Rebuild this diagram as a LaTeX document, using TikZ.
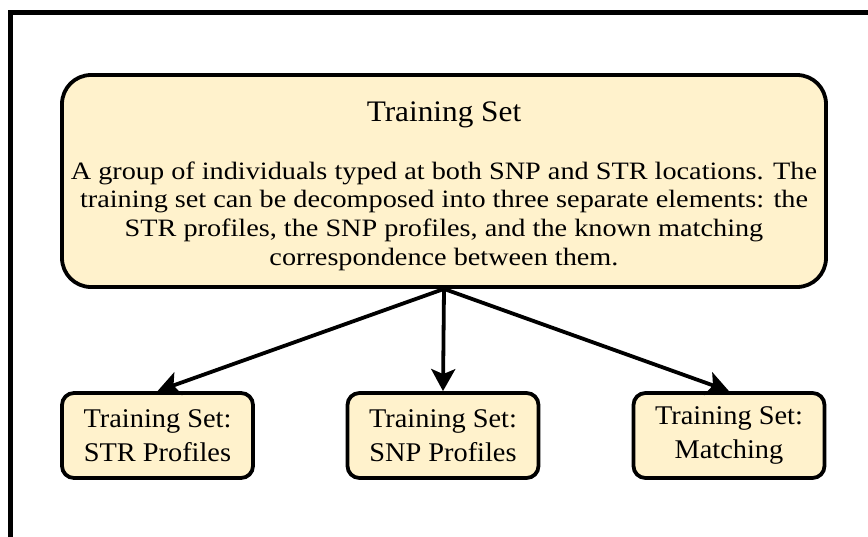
\documentclass[tikz,border=0pt]{standalone}
\usepackage{fontspec}
\setmainfont{Liberation Serif}
\newfontfamily\titlefam{Liberation Serif}[FakeStretch=1.05]
\newfontfamily\bodyfam{Liberation Serif}[FakeStretch=1.13]
\usetikzlibrary{arrows.meta}
\definecolor{boxfill}{HTML}{FFF2CC}
\begin{document}
\begin{tikzpicture}[x=1pt,y=-1pt,
  bigbox/.style={draw=black, line width=3.8pt, fill=boxfill, rounded corners=29pt,
    minimum width=764pt, minimum height=212pt, inner sep=0pt},
  smallbox/.style={draw=black, line width=3.8pt, fill=boxfill, rounded corners=12pt,
    minimum width=191pt, minimum height=85pt, inner sep=0pt, align=center,
    font=\titlefam\fontsize{27}{34}\selectfont},
  titletext/.style={font=\titlefam\fontsize{29.8}{34}\selectfont, anchor=base, inner sep=0pt},
  bodytext/.style={font=\bodyfam\fontsize{25}{28.7}\selectfont, anchor=north, inner sep=0pt, align=center},
  conn/.style={line width=3.8pt, -{Stealth[length=22pt,width=24pt,inset=5pt]}}
]
\useasboundingbox (0,0) rectangle (868,536);
\clip (0,0) rectangle (868,536);
\draw[line width=5pt] (10.5,12) rectangle (900,600);

\node[bigbox] (main) at (444,181) {};
\node[titletext] (title) at (444,121) {Training Set};
\node[bodytext] (desc) at (444,158.9) {\strut A group of individuals typed at both SNP and STR locations. The\\
training set can be decomposed into three separate elements: the\\
STR profiles, the SNP profiles, and the known matching\\
correspondence between them.};

\node[smallbox] (str) at (157.5,435.5) {Training Set:\\STR Profiles};
\node[smallbox] (snp) at (443,435.5) {Training Set:\\SNP Profiles};
\node[smallbox] (match) at (729,435.5) {Training Set:\\Matching};

\draw[conn] (main.south) -- (str.north);
\draw[conn] (main.south) -- (snp.north);
\draw[conn] (main.south) -- (match.north);
\end{tikzpicture}
\end{document}
